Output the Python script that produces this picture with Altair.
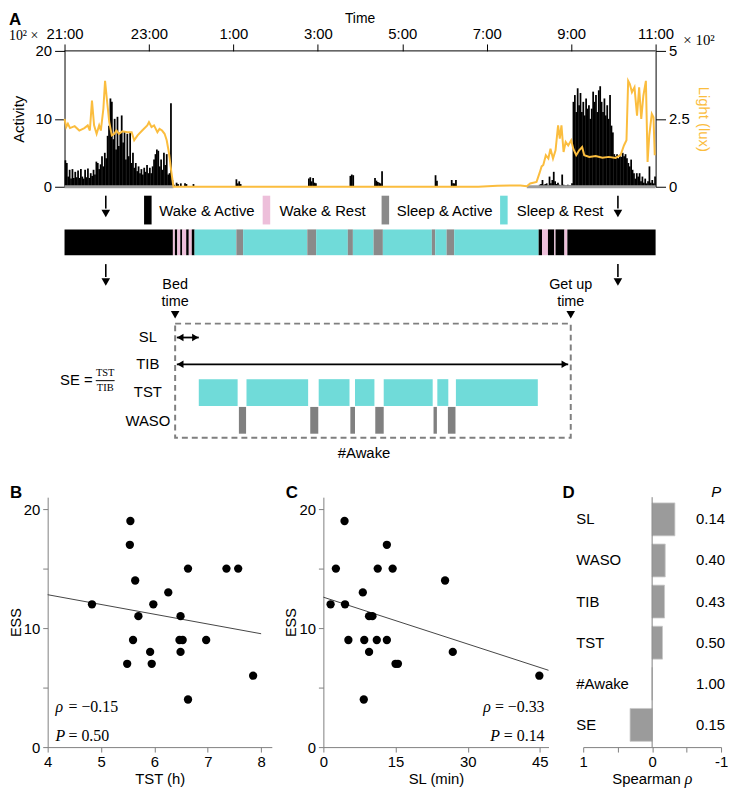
import altair as alt
import pandas as pd

FONT = "Liberation Sans"
SERIF = "Liberation Serif"
LIGHT = "#FBBD3E"
CYAN = "#70DBD9"
PINK = "#EDBFDA"
SGRAY = "#8A8A8A"
AXGRAY = "#808080"

# ------------------------------------------------------------------ data A
time_ticks = [21, 23, 25, 27, 29, 31, 33, 35]
EPOCH = 2 / 60  # 2-minute epochs (hours)

evening_start = 21.0
evening_activity = [
    3.9, 3.5, 1.5, 2.5, 1.2, 2.6, 1.3, 2.2, 1.4, 2.4,
    1.3, 2.6, 1.5, 1.2, 2.5, 1.4, 2.7, 1.3, 2.0, 1.6,
    2.5, 1.8, 3.7, 3.5, 2.6, 3.3, 4.5, 3.0, 5.0, 4.2,
    7.5, 9.0, 13.0, 12.5, 7.0, 10.0, 5.5, 10.3, 6.0, 8.0,
    10.5, 6.5, 8.2, 4.0, 7.8, 4.5, 8.0, 3.5, 5.0, 2.8,
    3.5, 2.3, 3.0, 2.0, 2.6, 1.8, 2.8, 2.2, 3.2, 2.0,
    2.8, 2.0, 3.0, 4.0, 4.8, 5.5, 5.3, 3.0, 4.0, 2.5,
    5.0, 3.2, 4.8, 1.8, 2.0, 12.3, 1.0, 0.3, 0.0, 0.6,
    0.4, 0.0, 0.5, 0.0, 0.0, 0.5, 0.4, 0.0, 0.0, 0.0, 0.0, 0.4,
]
night_time = [25.05, 25.083, 25.117, 25.15,
              26.767, 26.8, 26.833, 26.867, 26.9, 26.933,
              27.75, 27.783, 27.817,
              28.333, 28.367, 28.4, 28.433, 28.467, 28.5,
              29.767, 29.8,
              30.15, 30.183, 30.217, 30.25]
night_activity = [1.1, 0.5, 0.8, 0.4,
                  1.2, 1.4, 0.8, 1.3, 0.6, 0.5,
                  1.6, 1.8, 1.7,
                  1.3, 0.9, 0.7, 0.6, 0.5, 2.3,
                  1.7, 0.9,
                  1.0, 0.5, 0.5, 1.0]
morning_start = 32 + 14 / 60
morning_activity = [
    0.3, 0.4, 1.0, 0.3, 0.4, 0.5, 0.2, 1.5, 0.5, 1.0,
    2.2, 0.8, 0.4, 0.6, 0.3, 0.2, 1.8, 0.3, 0.2, 0.2,
    0.3, 0.2, 0.2, 0.5, 12.5, 13.5, 11.0, 14.5, 12.0, 13.8,
    11.0, 12.5, 10.5, 13.0, 11.5, 12.0, 10.0, 11.5, 14.0, 12.5,
    13.5, 11.0, 14.2, 14.8, 12.5, 11.0, 13.0, 10.5, 12.0, 10.0,
    13.5, 9.0, 8.0, 4.8, 4.5, 4.8, 4.2, 4.7, 4.4, 5.0,
    4.5, 4.8, 4.2, 3.5, 3.0, 4.0, 2.5, 2.0, 1.2, 2.0,
    1.5, 2.0, 0.8, 1.5, 0.6, 1.2, 0.5, 0.8, 3.0, 0.6,
    1.0, 0.5, 1.5,
]
light_time = [
    21.00, 21.04, 21.08, 21.13, 21.24, 21.35, 21.47, 21.55, 21.60, 21.65,
    21.70, 21.76, 21.82, 21.86, 21.92, 21.96, 22.01, 22.06, 22.12, 22.18,
    22.23, 22.29, 22.37, 22.49, 22.59, 22.65, 22.73, 22.84, 22.96, 23.00,
    23.06, 23.12, 23.20, 23.25, 23.31, 23.37, 23.42, 23.47, 23.53, 23.58,
    30.80,
    31.25, 31.80, 31.95, 32.03, 32.18, 32.25, 32.30, 32.34, 32.40, 32.46,
    32.51, 32.57, 32.63, 32.69, 32.73, 32.77, 32.82, 32.87, 32.93, 33.00,
    33.05, 33.12, 33.19, 33.26, 33.31, 33.43, 33.58, 33.74, 33.89, 34.05,
    34.17, 34.25, 34.31, 34.35, 34.39, 34.44, 34.50, 34.56, 34.61, 34.66,
    34.71, 34.77, 34.81, 34.85, 34.91, 34.95, 34.98,
]
light_lux = [
    250, 220, 232, 216, 223, 207, 216, 226, 207, 317,
    226, 195, 226, 207, 287, 390, 311, 238, 189, 195,
    207, 195, 204, 201, 201, 171, 189, 207, 226, 238,
    220, 226, 201, 213, 207, 195, 171, 128, 55, 0,
    0,
    4, 5, 2, 12, 18, 50, 75, 80, 116, 104,
    140, 104, 134, 226, 177, 226, 128, 165, 152, 171,
    140, 116, 134, 146, 116, 110, 113, 107, 110, 106,
    116, 152, 171, 390, 378, 348, 366, 262, 366, 250,
    335, 390, 91, 189, 268, 256, 116,
]
strip_start = [21.0, 31.95]
strip_end = [23.58, 35.0]

state_names = ["Wake & Active", "Wake & Rest", "Sleep & Active", "Sleep & Rest"]
state_colors = ["#000000", PINK, SGRAY, CYAN]
WA, WR, SA, SR = state_names
state_start = [21.0, 23.567, 23.614, 23.671, 23.741, 23.788, 23.882, 23.943, 24.014,
               24.08, 25.07, 25.23, 26.75, 26.96, 27.71, 27.83, 28.32, 28.54, 29.70,
               29.78, 30.05, 30.23, 32.23, 32.31, 32.45, 32.60, 32.63, 32.84, 32.91]
state_end = state_start[1:] + [35.0]
state_label = [WA, WR, WA, WR, WA, WR, WA, WR, WA,
               SR, SA, SR, SA, SR, SA, SR, SA, SR, SA,
               SR, SA, SR, WA, WR, WA, WR, WA, WR, WA]

bed_time = 23.62
getup_time = 32.99
sl_range = [23.66, 24.18]
tib_range = [23.66, 32.93]
tst_start = [24.18, 25.31, 27.02, 27.88, 28.56, 29.83, 30.27]
tst_end = [25.10, 26.77, 27.75, 28.34, 29.72, 30.09, 32.21]
waso_start = [25.13, 26.82, 27.77, 28.36, 29.74, 30.08]
waso_end = [25.30, 27.01, 27.88, 28.56, 29.82, 30.26]

# ------------------------------------------------------------------ data B, C, D
tst_b = [5.55, 5.54, 6.63, 7.35, 7.57, 5.64, 6.26, 4.83, 5.98, 5.70, 6.49,
         5.60, 6.47, 6.53, 6.97, 5.92, 6.49, 5.49, 5.95, 7.85, 6.63]
ess_b = [19, 17, 15, 15, 15, 14, 13, 12, 12, 11, 11, 9, 9, 9, 9, 8, 8, 7, 7, 6, 4]
sl_c = [4.4, 2.6, 13.2, 11.3, 14.4, 25.3, 8.2, 1.5, 4.5, 9.5, 10.2,
        5.2, 8.5, 11.1, 13.2, 9.5, 26.9, 15.0, 15.5, 44.9, 8.4]
ess_c = [19, 15, 17, 15, 15, 14, 13, 12, 12, 11, 11, 9, 9, 9, 9, 8, 8, 7, 7, 6, 4]
vars_d = ["SL", "WASO", "TIB", "TST", "#Awake", "SE"]
rho_d = [-0.33, -0.19, -0.18, -0.15, 0.0, 0.32]
p_d = ["0.14", "0.40", "0.43", "0.50", "1.00", "0.15"]

# ------------------------------------------------------------------ layout
PX_PER_H = 596 / 14.0          # pixels per hour in panel A
OFF = 17                       # panel A plot starts this far right of the panel B plot
XL = 21 - OFF / PX_PER_H
W_A = 596 + OFF
H_TOP = 137
H_MID = 291
LEFT = -39                     # left-most extent shared by all rows
one = pd.DataFrame({"a": [0]})

xs = alt.Scale(domain=[XL, 35], nice=False, zero=False)

# ------------------------------------------------------------------ Panel A top
t0 = ([evening_start + i * EPOCH for i in range(len(evening_activity))]
      + list(night_time)
      + [morning_start + i * EPOCH for i in range(len(morning_activity))])
act_df = pd.DataFrame({"t0": t0, "v": evening_activity + night_activity + morning_activity})
act_df["t1"] = act_df["t0"] + EPOCH * 1.25
act_df["z"] = 0.0
strip_df = pd.DataFrame({"s": strip_start, "e": strip_end, "z": [0, 0]})
light_df = pd.DataFrame({"t": light_time, "lux": light_lux})
frame_df = pd.DataFrame({"s": [21.0], "e": [35.0], "top": [20.0]})

top_axis = alt.Axis(orient="top", values=time_ticks,
                    labelExpr="(datum.value % 24) + ':00'", title=None, domain=False,
                    tickSize=7, labelPadding=3, labelFlush=False, tickColor="black")
left_axis = alt.Axis(values=[0, 10, 20], title="Activity", tickSize=10, offset=-OFF,
                     labelPadding=3, titlePadding=9,
                     domainColor="black", tickColor="black")
right_axis = alt.Axis(orient="right", values=[0, 250, 500],
                      labelExpr="datum.value == 0 ? '0' : (datum.value == 250 ? '2.5' : '5')",
                      title="Light (lux)", titleColor=LIGHT, tickSize=10,
                      labelPadding=3, titlePadding=6,
                      domainColor="black", tickColor="black")
ys_act = alt.Scale(domain=[0, 20], nice=False)

bars = alt.Chart(act_df).mark_rect(color="black").encode(
    x=alt.X("t0:Q", scale=xs, axis=top_axis), x2="t1:Q",
    y=alt.Y("v:Q", scale=ys_act, axis=left_axis), y2="z:Q")
strip = alt.Chart(strip_df).mark_rule(color="#9c9c9c", strokeWidth=3).encode(
    x=alt.X("s:Q", scale=xs, axis=top_axis), x2="e:Q",
    y=alt.Y("z:Q", scale=ys_act, axis=left_axis))
frame = alt.Chart(frame_df).mark_rule(color="black", strokeWidth=1).encode(
    x=alt.X("s:Q", scale=xs, axis=top_axis), x2="e:Q",
    y=alt.Y("top:Q", scale=ys_act, axis=left_axis))
light = alt.Chart(light_df).mark_line(color=LIGHT, strokeWidth=2).encode(
    x=alt.X("t:Q", scale=xs, axis=top_axis),
    y=alt.Y("lux:Q", scale=alt.Scale(domain=[0, 500], nice=False), axis=right_axis))

lbl_A = alt.Chart(one).mark_text(text="A", fontSize=17, fontWeight="bold",
                                 align="left", baseline="top").encode(
    x=alt.value(LEFT), y=alt.value(-39))
lbl_time = alt.Chart(one).mark_text(text="Time", fontSize=14,
                                    align="center", baseline="top").encode(
    x=alt.value(OFF + 298), y=alt.value(-39))
lbl_l = alt.Chart(one).mark_text(text="10² ×", font=SERIF, fontSize=14,
                                 align="left", baseline="middle").encode(
    x=alt.value(LEFT), y=alt.value(-15))
lbl_r = alt.Chart(one).mark_text(text="× 10²", font=SERIF, fontSize=15,
                                 align="left", baseline="middle").encode(
    x=alt.value(W_A + 28), y=alt.value(-11))

a_top = alt.layer(alt.layer(bars, strip, frame), light, lbl_A, lbl_time, lbl_l,
                  lbl_r).resolve_scale(y="independent").properties(width=W_A, height=H_TOP)

# ------------------------------------------------------------------ Panel A middle (state bar + schematic)
def tx(f):
    return alt.X(f, type="quantitative", scale=xs, axis=None)


def px(f):
    return alt.X(f, type="quantitative", scale=None, axis=None)


def pyf(f):
    return alt.Y(f, type="quantitative", scale=None, axis=None)


col_scale = alt.Scale(domain=state_names, range=state_colors)

anchor = alt.Chart(one).mark_rule(opacity=0).encode(
    x=alt.value(LEFT), y=alt.value(0), y2=alt.value(H_MID))

LEG_SW = [OFF + v for v in [84, 203.6, 323.5, 443]]
LEG_TX = [OFF + v for v in [95.6, 216.8, 335, 456]]
leg_df = pd.DataFrame({"state": state_names, "sx": LEG_SW, "tx": LEG_TX})
leg_sw = alt.Chart(leg_df).transform_calculate(
    x1="datum.sx - 3.8", x2="datum.sx + 3.8").mark_rect().encode(
    x=px("x1"), x2="x2:Q", y=alt.value(0), y2=alt.value(29),
    color=alt.Color("state:N", scale=col_scale, legend=None))
leg_tx = alt.Chart(leg_df).mark_text(align="left", baseline="middle", fontSize=15).encode(
    x=px("tx"), y=alt.value(15), text="state:N")

ARROW_X = [OFF + 41.6, OFF + 558.0]
arr_df = pd.DataFrame({"ax": ARROW_X * 2, "y1": [0, 0, 69, 69], "y2": [13, 13, 82, 82],
                       "yh": [18, 18, 87, 87]})
arr_shaft = alt.Chart(arr_df).mark_rule(color="black", strokeWidth=1.6).encode(
    x=px("ax"), y=pyf("y1"), y2="y2:Q")
arr_head = alt.Chart(arr_df).mark_point(shape="triangle-down", filled=True, size=75,
                                        color="black", opacity=1).encode(
    x=px("ax"), y=pyf("yh"))

state_df = pd.DataFrame({"s": state_start, "e": state_end, "state": state_label})
state_bar = alt.Chart(state_df).mark_rect().encode(
    x=tx("s"), x2="e:Q", y=alt.value(34), y2=alt.value(60),
    color=alt.Color("state:N", scale=col_scale, legend=None))

bt_df = pd.DataFrame({"t": [bed_time, bed_time, getup_time, getup_time],
                      "txt": ["Bed", "time", "Get up", "time"],
                      "yy": [90, 107, 90, 107]})
bt_text = alt.Chart(bt_df).mark_text(fontSize=14.5, baseline="middle").encode(
    x=tx("t"), y=pyf("yy"), text="txt:N")
tri_df = pd.DataFrame({"t": [bed_time, getup_time]})
bt_tri = alt.Chart(tri_df).mark_point(shape="triangle-down", filled=True, size=75,
                                      color="black", opacity=1).encode(
    x=tx("t"), y=alt.value(120))

box_df = pd.DataFrame({"s": [bed_time], "e": [getup_time]})
box = alt.Chart(box_df).mark_rect(fill="white", fillOpacity=0, stroke="#7f7f7f",
                                  strokeWidth=2, strokeDash=[6, 4]).encode(
    x=tx("s"), x2="e:Q", y=alt.value(129), y2=alt.value(244))

HEAD = 3.5 / PX_PER_H
dbl_df = pd.DataFrame({"s": [sl_range[0], tib_range[0]], "e": [sl_range[1], tib_range[1]],
                       "yy": [143, 170]})
dbl_df["hs"] = dbl_df["s"] + HEAD
dbl_df["he"] = dbl_df["e"] - HEAD
dbl_rule = alt.Chart(dbl_df).mark_rule(color="black", strokeWidth=1.8).encode(
    x=tx("s"), x2="e:Q", y=pyf("yy"))
dbl_l = alt.Chart(dbl_df).mark_point(shape="triangle-left", filled=True, size=55,
                                     color="black", opacity=1).encode(x=tx("hs"), y=pyf("yy"))
dbl_r = alt.Chart(dbl_df).mark_point(shape="triangle-right", filled=True, size=55,
                                     color="black", opacity=1).encode(x=tx("he"), y=pyf("yy"))

tst_df = pd.DataFrame({"s": tst_start, "e": tst_end})
tst_bars = alt.Chart(tst_df).mark_rect(color=CYAN).encode(
    x=tx("s"), x2="e:Q", y=alt.value(185), y2=alt.value(212))
waso_df = pd.DataFrame({"s": waso_start, "e": waso_end})
waso_bars = alt.Chart(waso_df).mark_rect(color="#808080").encode(
    x=tx("s"), x2="e:Q", y=alt.value(213), y2=alt.value(240))

row_df = pd.DataFrame({"txt": ["SL", "TIB", "TST", "WASO"], "yy": [143, 170, 198, 227]})
row_lbl = alt.Chart(row_df).mark_text(fontSize=15, baseline="middle").encode(
    x=alt.value(OFF + 84), y=pyf("yy"), text="txt:N")

se_txt = alt.Chart(one).mark_text(text="SE =", fontSize=15, baseline="middle").encode(
    x=alt.value(OFF + 12), y=alt.value(186))
frac_df = pd.DataFrame({"txt": ["TST", "TIB"], "yy": [179, 194]})
frac_txt = alt.Chart(frac_df).mark_text(font=SERIF, fontSize=10.5, baseline="middle").encode(
    x=alt.value(OFF + 41), y=pyf("yy"), text="txt:N")
frac_line = alt.Chart(one).mark_rule(color="black", strokeWidth=1).encode(
    x=alt.value(OFF + 31.5), x2=alt.value(OFF + 50.5), y=alt.value(186.5))
awake_txt = alt.Chart(one).mark_text(text="#Awake", fontSize=15, baseline="middle").encode(
    x=alt.value(OFF + 302), y=alt.value(259))

a_mid = alt.layer(anchor, leg_sw, leg_tx, arr_shaft, arr_head, state_bar, bt_text, bt_tri,
                  box, dbl_rule, dbl_l, dbl_r, tst_bars, waso_bars, row_lbl, se_txt,
                  frac_txt, frac_line, awake_txt).resolve_scale(
    x="independent").properties(width=W_A, height=H_MID)

# ------------------------------------------------------------------ Panel B, C
H_BC = 252
ess_scale = alt.Scale(domain=[0, 21], nice=False)
ess_axis = alt.Axis(values=[0, 5, 10, 15, 20],
                    labelExpr="datum.value % 10 === 0 ? datum.label : ''",
                    title="ESS", tickSize=5, labelPadding=3, titlePadding=0,
                    titleFontSize=14.5,
                    domainColor=AXGRAY, tickColor=AXGRAY)


def scatter(df, xf, xscale, xaxis, reg_extent, letter, rho_txt, p_txt, right, width):
    base = alt.Chart(df)
    pts = base.mark_circle(size=70, color="black", opacity=1).encode(
        x=alt.X(xf + ":Q", scale=xscale, axis=xaxis),
        y=alt.Y("ess:Q", scale=ess_scale, axis=ess_axis))
    reg = base.transform_regression(xf, "ess", extent=reg_extent).mark_line(
        color="#444444", strokeWidth=1).encode(
        x=alt.X(xf + ":Q", scale=xscale, axis=xaxis),
        y=alt.Y("ess:Q", scale=ess_scale, axis=ess_axis))
    let = alt.Chart(one).mark_text(text=letter, fontSize=17, fontWeight="bold",
                                   align="left", baseline="top").encode(
        x=alt.value(-38), y=alt.value(-12))
    layers = [reg, pts, let]
    for sym, rest, yy, restw in [("ρ", rho_txt, 212, 50), ("P", p_txt, 241, 41)]:
        if right:
            sx, rx, al = width - 4 - restw - 4, width - 4, "right"
        else:
            sx, rx, al = 8, 21, "left"
        layers.append(alt.Chart(one).mark_text(text=sym, font=SERIF, fontSize=16,
                                               fontStyle="italic", align=al,
                                               baseline="middle").encode(
            x=alt.value(sx), y=alt.value(yy)))
        layers.append(alt.Chart(one).mark_text(text=rest, font=SERIF, fontSize=16,
                                               align=al, baseline="middle").encode(
            x=alt.value(rx), y=alt.value(yy)))
    return alt.layer(*layers).properties(width=width, height=H_BC)


b_df = pd.DataFrame({"tst": tst_b, "ess": ess_b})
b_chart = scatter(b_df, "tst", alt.Scale(domain=[4, 8.2], nice=False, zero=False),
                  alt.Axis(values=[4, 5, 6, 7, 8], title="TST (h)", tickSize=5,
                           labelPadding=3, titlePadding=2, labelFlush=False,
                           domainColor=AXGRAY, tickColor=AXGRAY),
                  [4, 8], "B", "= −0.15", "= 0.50", False, 226)
c_df = pd.DataFrame({"sl": sl_c, "ess": ess_c})
c_chart = scatter(c_df, "sl", alt.Scale(domain=[0, 46.8], nice=False),
                  alt.Axis(values=[0, 15, 30, 45], title="SL (min)", tickSize=5,
                           labelPadding=3, titlePadding=2, labelFlush=False,
                           domainColor=AXGRAY, tickColor=AXGRAY),
                  [0, 46.8], "C", "= −0.33", "= 0.14", True, 227)

# ------------------------------------------------------------------ Panel D
H_D = 252
W_D = 139
d_df = pd.DataFrame({"var": vars_d, "rho": rho_d, "p": p_d, "z": [0] * 6})
d_xscale = alt.Scale(domain=[-1, 1], reverse=True, nice=False)
d_axis = alt.Axis(values=[-1, -0.5, 0, 0.5, 1],
                  labelExpr="datum.value == 0 ? '0' : (datum.value == 1 ? '1' : (datum.value == -1 ? '-1' : ''))",
                  title=None, tickSize=5, labelPadding=3,
                  labelFlush=False,
                  domainColor=AXGRAY, tickColor=AXGRAY)
yb = alt.Y("var:N", sort=vars_d, scale=alt.Scale(paddingInner=0.2, paddingOuter=0.14),
           axis=None)
d_bars = alt.Chart(d_df).mark_bar(color="#9b9b9b", stroke="#c8c8c8", strokeWidth=0.8).encode(
    x=alt.X("rho:Q", scale=d_xscale, axis=d_axis), x2="z:Q", y=yb)
d_zero = alt.Chart(one).mark_rule(color=AXGRAY, strokeWidth=1).encode(
    x=alt.X("a:Q", scale=d_xscale, axis=d_axis))
d_lbl = alt.Chart(d_df).mark_text(align="left", fontSize=15, baseline="middle").encode(
    x=alt.value(-7), y=yb, text="var:N")
d_p = alt.Chart(d_df).mark_text(align="right", fontSize=15, baseline="middle").encode(
    x=alt.value(W_D + 4), y=yb, text="p:N")
d_ph = alt.Chart(one).mark_text(text="P", fontSize=15, fontStyle="italic",
                                baseline="top").encode(x=alt.value(W_D - 5), y=alt.value(-12))
d_let = alt.Chart(one).mark_text(text="D", fontSize=17, fontWeight="bold",
                                 align="left", baseline="top").encode(
    x=alt.value(-21), y=alt.value(-12))
d_t1 = alt.Chart(one).mark_text(text="Spearman", fontSize=15, align="right",
                                baseline="middle").encode(
    x=alt.value(W_D / 2 + 29), y=alt.value(H_D + 32))
d_t2 = alt.Chart(one).mark_text(text="ρ", font=SERIF, fontSize=16, fontStyle="italic",
                                align="left", baseline="middle").encode(
    x=alt.value(W_D / 2 + 33), y=alt.value(H_D + 32))
d_chart = alt.layer(d_bars, d_zero, d_lbl, d_p, d_ph, d_let, d_t1, d_t2).properties(
    width=W_D, height=H_D)

bottom = alt.hconcat(b_chart, c_chart, d_chart, spacing=12)

chart = alt.vconcat(a_top, a_mid, bottom, spacing=0).properties(
    padding={"left": 0, "top": 0, "right": 0, "bottom": 0}
).configure(font=FONT).configure_view(stroke=None).configure_axis(
    labelFont=FONT, titleFont=FONT, labelFontSize=15, titleFontSize=15,
    titleFontWeight="normal", labelColor="black", grid=False
).configure_text(font=FONT, color="black")

chart.save("out.html", embed_options={"renderer": "svg", "actions": False})
